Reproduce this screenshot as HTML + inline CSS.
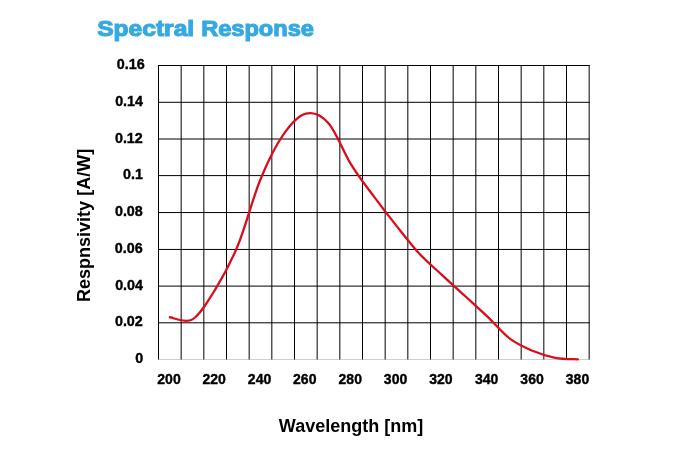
<!DOCTYPE html>
<html><head><meta charset="utf-8"><title>Spectral Response</title><style>
html,body{margin:0;padding:0;background:#fff;}
body{width:676px;height:457px;overflow:hidden;position:relative;}
svg{position:absolute;left:0;top:0;display:block;}
text{font-family:"Liberation Sans",Arial,sans-serif;font-weight:bold;}
</style></head><body>
<svg width="676" height="457" viewBox="0 0 676 457">
<rect width="676" height="457" fill="#fff"/>
<g font-size="21.8" fill="#35a9e1" stroke="#35a9e1" stroke-width="1.1"><text transform="translate(97.2,36.0) scale(1.127,1)">Spectral</text><text transform="translate(201.2,36.0) scale(1.082,1)">Response</text></g>
<line x1="158" y1="359.50" x2="589.5" y2="359.50" stroke="#d0d0d0" stroke-width="1"/>
<g stroke="#000" stroke-width="1">
<line x1="158.00" y1="65.50" x2="589.67" y2="65.50"/>
<line x1="158.00" y1="102.30" x2="589.67" y2="102.30"/>
<line x1="158.00" y1="139.00" x2="589.67" y2="139.00"/>
<line x1="158.00" y1="175.60" x2="589.67" y2="175.60"/>
<line x1="158.00" y1="212.55" x2="589.67" y2="212.55"/>
<line x1="158.00" y1="249.45" x2="589.67" y2="249.45"/>
<line x1="158.00" y1="286.10" x2="589.67" y2="286.10"/>
<line x1="158.00" y1="322.80" x2="589.67" y2="322.80"/>
<line x1="158.50" y1="65.00" x2="158.50" y2="359.50"/>
<line x1="181.17" y1="65.00" x2="181.17" y2="359.50"/>
<line x1="203.83" y1="65.00" x2="203.83" y2="359.50"/>
<line x1="226.50" y1="65.00" x2="226.50" y2="359.50"/>
<line x1="249.17" y1="65.00" x2="249.17" y2="359.50"/>
<line x1="271.83" y1="65.00" x2="271.83" y2="359.50"/>
<line x1="294.50" y1="65.00" x2="294.50" y2="359.50"/>
<line x1="317.17" y1="65.00" x2="317.17" y2="359.50"/>
<line x1="339.83" y1="65.00" x2="339.83" y2="359.50"/>
<line x1="362.50" y1="65.00" x2="362.50" y2="359.50"/>
<line x1="385.17" y1="65.00" x2="385.17" y2="359.50"/>
<line x1="407.83" y1="65.00" x2="407.83" y2="359.50"/>
<line x1="430.50" y1="65.00" x2="430.50" y2="359.50"/>
<line x1="453.17" y1="65.00" x2="453.17" y2="359.50"/>
<line x1="475.83" y1="65.00" x2="475.83" y2="359.50"/>
<line x1="498.50" y1="65.00" x2="498.50" y2="359.50"/>
<line x1="521.17" y1="65.00" x2="521.17" y2="359.50"/>
<line x1="543.83" y1="65.00" x2="543.83" y2="359.50"/>
<line x1="566.50" y1="65.00" x2="566.50" y2="359.50"/>
<line x1="589.17" y1="65.00" x2="589.17" y2="359.50"/>
</g>
<path d="M169.83 317.27 C173.61 317.62 184.94 323.98 192.50 319.37 C200.06 314.75 207.61 301.87 215.17 289.56 C222.72 277.25 230.28 263.89 237.83 245.51 C245.39 227.13 252.94 197.71 260.50 179.29 C268.06 160.86 275.61 145.90 283.17 134.97 C290.72 124.04 298.28 115.67 305.83 113.70 C313.39 111.73 320.94 114.67 328.50 123.15 C336.06 131.63 343.61 152.38 351.17 164.59 C358.72 176.80 366.28 186.19 373.83 196.41 C381.39 206.63 388.94 216.37 396.50 225.89 C404.06 235.40 411.61 245.33 419.17 253.49 C426.72 261.65 434.28 267.82 441.83 274.82 C449.39 281.83 456.94 288.59 464.50 295.51 C472.06 302.43 479.61 309.13 487.17 316.32 C494.72 323.52 502.28 332.93 509.83 338.67 C517.39 344.41 524.94 347.58 532.50 350.77 C540.06 353.95 547.61 356.37 555.17 357.81 C562.72 359.24 574.06 359.11 577.83 359.38" fill="none" stroke="#d80e1c" stroke-width="2.3" stroke-linecap="round" stroke-linejoin="round"/>
<g font-size="15" fill="#000" stroke="#000" stroke-width="0.4">
<text transform="translate(144.70,69.35) scale(0.955,1)" text-anchor="end">0.16</text>
<text transform="translate(143.00,106.35) scale(0.955,1)" text-anchor="end">0.14</text>
<text transform="translate(142.80,143.25) scale(0.955,1)" text-anchor="end">0.12</text>
<text transform="translate(143.00,179.35) scale(0.955,1)" text-anchor="end">0.1</text>
<text transform="translate(142.80,216.25) scale(0.955,1)" text-anchor="end">0.08</text>
<text transform="translate(142.60,253.35) scale(0.955,1)" text-anchor="end">0.06</text>
<text transform="translate(143.00,290.25) scale(0.955,1)" text-anchor="end">0.04</text>
<text transform="translate(142.80,326.25) scale(0.955,1)" text-anchor="end">0.02</text>
<text transform="translate(143.20,363.25) scale(0.955,1)" text-anchor="end">0</text>
<text transform="translate(169.00,383.90) scale(0.935,1)" text-anchor="middle">200</text>
<text transform="translate(214.15,383.90) scale(0.935,1)" text-anchor="middle">220</text>
<text transform="translate(259.55,383.90) scale(0.935,1)" text-anchor="middle">240</text>
<text transform="translate(304.75,383.90) scale(0.935,1)" text-anchor="middle">260</text>
<text transform="translate(350.25,383.90) scale(0.935,1)" text-anchor="middle">280</text>
<text transform="translate(395.55,383.90) scale(0.935,1)" text-anchor="middle">300</text>
<text transform="translate(440.85,383.90) scale(0.935,1)" text-anchor="middle">320</text>
<text transform="translate(486.65,383.90) scale(0.935,1)" text-anchor="middle">340</text>
<text transform="translate(532.05,383.90) scale(0.935,1)" text-anchor="middle">360</text>
<text transform="translate(577.50,383.90) scale(0.935,1)" text-anchor="middle">380</text>
</g>
<text transform="translate(351.0,431.8) scale(0.974,1)" font-size="18.5" text-anchor="middle" fill="#000">Wavelength [nm]</text>
<text transform="translate(89.9,225.4) rotate(-90) scale(0.974,1)" font-size="18.5" text-anchor="middle" fill="#000">Respnsivity [A/W]</text>
</svg>
</body></html>
